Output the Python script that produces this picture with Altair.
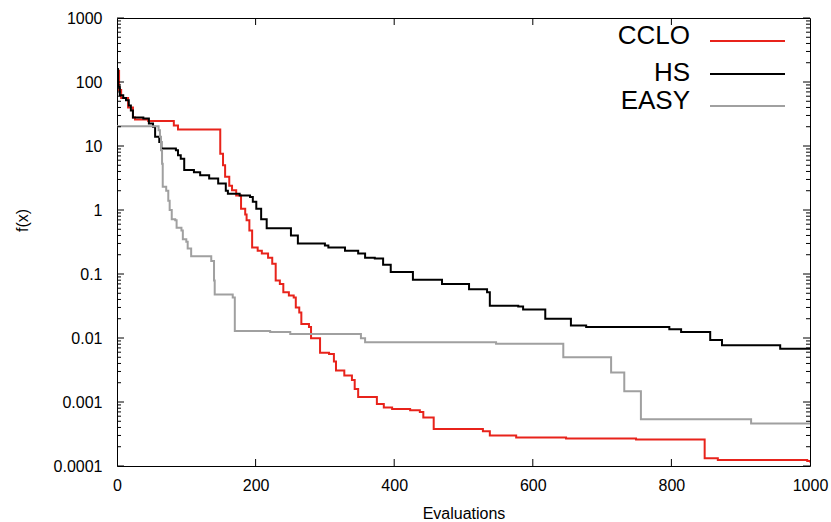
import altair as alt
import pandas as pd

# ---------------- data ----------------
CCLO_x = [0, 3, 6, 16, 23, 26, 45, 82, 88, 149, 153, 156, 162, 166, 172, 179, 185, 187, 191,
          195, 203, 209, 218, 224, 229, 235, 240, 248, 255, 258, 263, 266, 277, 280, 293, 306, 313, 316, 328,
          339, 343, 348, 375, 385, 397, 423, 437, 442, 457, 528, 538, 576, 648, 749, 848, 867, 996, 1000]
CCLO_y = [150, 75, 56, 40, 28, 26, 24.6, 21, 18.1, 7.6, 5, 3.3, 2.4, 2.03, 1.69, 1.05, 0.85, 0.69, 0.48,
          0.26, 0.23, 0.21, 0.18, 0.145, 0.079, 0.070, 0.052, 0.046, 0.043, 0.030, 0.025, 0.0166, 0.0149, 0.0099,
          0.0059, 0.0056, 0.0043, 0.0031, 0.0026, 0.0022, 0.0016, 0.0012, 0.00093, 0.00082, 0.00078, 0.00074,
          0.00070, 0.00057, 0.00038, 0.00035, 0.00030, 0.00028, 0.00027, 0.00026, 0.000132, 0.000124, 0.00012,
          0.000113]

HS_x = [0, 1.4, 4, 9, 13, 17, 20, 23, 38, 46, 52, 55, 61, 64, 85, 88, 92, 97, 111, 120,
        133, 146, 157, 160, 177, 192, 196, 201, 208, 216, 251, 261, 300, 305, 329, 348, 358, 372, 384, 395,
        427, 469, 508, 534, 538, 579, 586, 618, 655, 677, 797, 814, 856, 873, 957, 1000]
HS_y = [160, 84, 62, 56, 52, 43, 36, 28, 27, 22.5, 20, 13.9, 11.6, 9.1, 8.6, 7.2, 6.3, 4.2, 3.9, 3.5,
        3.1, 2.6, 2.0, 1.8, 1.69, 1.6, 1.35, 1.05, 0.72, 0.52, 0.40, 0.30, 0.28, 0.26, 0.23, 0.21, 0.18, 0.175,
        0.14, 0.107, 0.081, 0.07, 0.058, 0.052, 0.032, 0.031, 0.028, 0.020, 0.0157, 0.0148, 0.0137, 0.0124,
        0.0093, 0.0077, 0.0068, 0.0068]

EASY_x = [0, 60, 62, 63.5, 65, 66, 71, 74, 76, 79, 84, 86, 93, 95, 100, 102, 107, 136, 140, 141,
          167, 170, 221, 250, 352, 358, 547, 644, 713, 732, 756, 915, 1000]
EASY_y = [20.4, 17.7, 13.9, 8.6, 5.3, 2.3, 2.0, 1.4, 1.0, 0.72, 0.69, 0.53, 0.48, 0.35, 0.32, 0.25, 0.19,
          0.16, 0.079, 0.048, 0.043, 0.0129, 0.0124, 0.0115, 0.0099, 0.0086, 0.0081, 0.005, 0.0029, 0.00147,
          0.00054, 0.00046, 0.00046]

series_names = ["CCLO", "HS", "EASY"]
series_colors = ["#e8231b", "#000000", "#a0a0a0"]

x_ticks = [0, 200, 400, 600, 800, 1000]
y_ticks = [0.0001, 0.001, 0.01, 0.1, 1, 10, 100, 1000]
y_minor = [m * d for d in [0.0001, 0.001, 0.01, 0.1, 1, 10, 100] for m in range(2, 10)]

# ---------------- layout ----------------
LEFT, TOP = 117, 18
W, H = 693, 448
FONT = "Liberation Sans"

xs = alt.Scale(domain=[0, 1000], nice=False, zero=False)
ys = alt.Scale(type="log", domain=[0.0001, 1000], nice=False, clamp=True)

x_axis = alt.Axis(values=x_ticks, grid=False, domain=False, ticks=False, labelFontSize=16,
                  labelFont=FONT, labelColor="#000", labelPadding=11, labelExpr="'' + datum.value",
                  title="Evaluations", titleFont=FONT, titleFontSize=16, titleFontWeight="normal",
                  titleColor="#000", titleBaseline="middle", titleY=47, labelFlush=False)
y_axis = alt.Axis(values=y_ticks, grid=False, domain=False, ticks=False, labelFontSize=16,
                  labelFont=FONT, labelColor="#000", labelPadding=15,
                  labelExpr="'' + datum.value", title="f(x)", titleFont=FONT, titleFontSize=16,
                  titleFontWeight="normal", titleColor="#000", titleX=-95, titleY=202,
                  titleAlign="center", titleBaseline="middle", labelFlush=False)


def series_layer(xv, yv, name, color):
    df = pd.DataFrame({"x": xv, "y": yv, "s": name})
    return alt.Chart(df).mark_line(interpolate="step-after", color=color, strokeWidth=2, clip=True).encode(
        x=alt.X("x:Q", scale=xs, axis=x_axis),
        y=alt.Y("y:Q", scale=ys, axis=y_axis),
    )


layers = [
    series_layer(CCLO_x, CCLO_y, "CCLO", series_colors[0]),
    series_layer(HS_x, HS_y, "HS", series_colors[1]),
    series_layer(EASY_x, EASY_y, "EASY", series_colors[2]),
]

# inward ticks (gnuplot style, mirrored)
ymaj = pd.DataFrame({"v": y_ticks})
ymin = pd.DataFrame({"v": y_minor})
xmaj = pd.DataFrame({"v": x_ticks[1:-1]})


def yrule(df, x0, x1):
    return alt.Chart(df).mark_rule(color="#000", strokeWidth=1).encode(
        y=alt.Y("v:Q", scale=ys, axis=y_axis), x=alt.value(x0), x2=alt.value(x1))


def xrule(df, y0, y1):
    return alt.Chart(df).mark_rule(color="#000", strokeWidth=1).encode(
        x=alt.X("v:Q", scale=xs, axis=x_axis), y=alt.value(y0), y2=alt.value(y1))


MAJ, MIN = 7, 4
layers += [
    yrule(ymaj, 0, MAJ), yrule(ymaj, W - MAJ, W),
    yrule(ymin, 0, MIN), yrule(ymin, W - MIN, W),
    xrule(xmaj, H - MAJ, H), xrule(xmaj, 0, MAJ),
]

# legend: label on the left, line sample on the right (gnuplot key)
leg_text_y = [36, 73, 101]
leg_line_y = [41, 74, 106]
for name, col, ty, ly in zip(series_names, series_colors, leg_text_y, leg_line_y):
    tdf = pd.DataFrame({"label": [name]})
    layers.append(alt.Chart(tdf).mark_text(align="right", baseline="middle", font=FONT, fontSize=26,
                                           color="#000").encode(
        text="label:N", x=alt.value(690 - LEFT), y=alt.value(ty - TOP)))
    layers.append(alt.Chart(tdf).mark_rule(color=col, strokeWidth=2).encode(
        x=alt.value(710 - LEFT), x2=alt.value(785 - LEFT), y=alt.value(ly - TOP)))

chart = alt.layer(*layers).properties(
    width=W, height=H,
    autosize=alt.AutoSizeParams(type="none"),
    padding={"left": LEFT, "top": TOP, "right": 831 - LEFT - W, "bottom": 522 - TOP - H},
    background="white",
).configure_view(stroke="#000", strokeWidth=1)

chart.save("out.html", embed_options={"renderer": "svg", "actions": False})
